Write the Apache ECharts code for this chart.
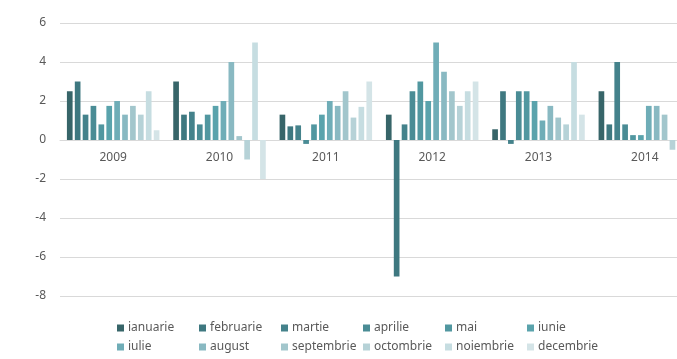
<!DOCTYPE html>
<html>
<head>
<meta charset="utf-8">
<script src="https://cdn.jsdelivr.net/npm/echarts@6/dist/echarts.min.js"></script>
<style>
  html, body { margin: 0; padding: 0; background: #fff; }
  #chart { width: 677px; height: 359px; }
</style>
</head>
<body>
<div id="chart"></div>
<script>
// Years on the category axis
const years = ['2009', '2010', '2011', '2012', '2013', '2014'];

// Month names (series)
const months = ['ianuarie', 'februarie', 'martie', 'aprilie', 'mai', 'iunie',
                'iulie', 'august', 'septembrie', 'octombrie', 'noiembrie', 'decembrie'];

// Values per month, one entry per year 2009..2014
const ianuarie   = [2.5, 3.0, 1.3, 1.3, 0.55, 2.5];
const februarie  = [3.0, 1.3, 0.7, -7.0, 2.5, 0.8];
const martie     = [1.3, 1.45, 0.75, 0.8, -0.2, 4.0];
const aprilie    = [1.75, 0.8, -0.2, 2.5, 2.5, 0.8];
const mai        = [0.8, 1.3, 0.8, 3.0, 2.5, 0.25];
const iunie      = [1.75, 1.75, 1.3, 2.0, 2.0, 0.25];
const iulie      = [2.0, 2.0, 2.0, 5.0, 1.0, 1.75];
const august     = [1.3, 4.0, 1.75, 3.5, 1.75, 1.75];
const septembrie = [1.75, 0.2, 2.5, 2.5, 1.15, 1.3];
const octombrie  = [1.3, -1.0, 1.15, 1.75, 0.8, -0.5];
const noiembrie  = [2.5, 5.0, 1.7, 2.5, 4.0, null];
const decembrie  = [0.5, -2.0, 3.0, 3.0, 1.3, null];

const seriesValues = [ianuarie, februarie, martie, aprilie, mai, iunie,
                      iulie, august, septembrie, octombrie, noiembrie, decembrie];

// Y axis range and step
const yMin = -8, yMax = 6, yStep = 2;

const palette = ['#376569', '#3e7880', '#44828b', '#4a8c95', '#5197a0', '#5aa3ac',
                 '#6fadb7', '#89b9c2', '#a2c6cc', '#b6d2d7', '#c6dde1', '#d4e4e7'];

const gridTop = 23, gridHeight = 273;
// distance from the bottom of the plot to the zero line
const zeroOffset = gridHeight * (0 - yMin) / (yMax - yMin);

// one legend entry per month, laid out as a 6 x 2 table
const legends = months.map((m, i) => ({
  data: [m],
  left: 117 + (i % 6) * 82,
  top: i < 6 ? 322 : 341,
  orient: 'horizontal',
  itemWidth: 7, itemHeight: 7, itemGap: 0,
  icon: 'rect',
  padding: 0,
  textStyle: { color: '#595959', fontSize: 12, fontFamily: 'Noto Sans', padding: [0, 0, 0, -1] }
}));

const chart = echarts.init(document.getElementById('chart'), null, { renderer: 'canvas' });

chart.setOption({
  animation: false,
  color: palette,
  textStyle: { fontFamily: 'Noto Sans' },
  grid: { left: 60, width: 638, top: gridTop, height: gridHeight,
          containLabel: false, outerBoundsMode: 'none' },
  legend: legends,
  xAxis: {
    type: 'category',
    data: years,
    position: 'bottom',
    offset: -zeroOffset,
    axisLine: { onZero: false, lineStyle: { color: '#d9d9d9', width: 1 } },
    axisTick: { show: false },
    axisLabel: { color: '#595959', fontSize: 12, margin: 12 },
    splitLine: { show: false }
  },
  yAxis: {
    type: 'value',
    min: yMin, max: yMax, interval: yStep,
    axisLine: { show: false },
    axisTick: { show: false },
    axisLabel: { color: '#595959', fontSize: 12, margin: 14 },
    splitLine: { lineStyle: { color: '#d9d9d9', width: 1 } }
  },
  series: months.map((m, i) => ({
    name: m,
    type: 'bar',
    data: seriesValues[i],
    barCategoryGap: '13%',
    barGap: '39%',
    itemStyle: { color: palette[i] }
  }))
});
</script>
</body>
</html>
